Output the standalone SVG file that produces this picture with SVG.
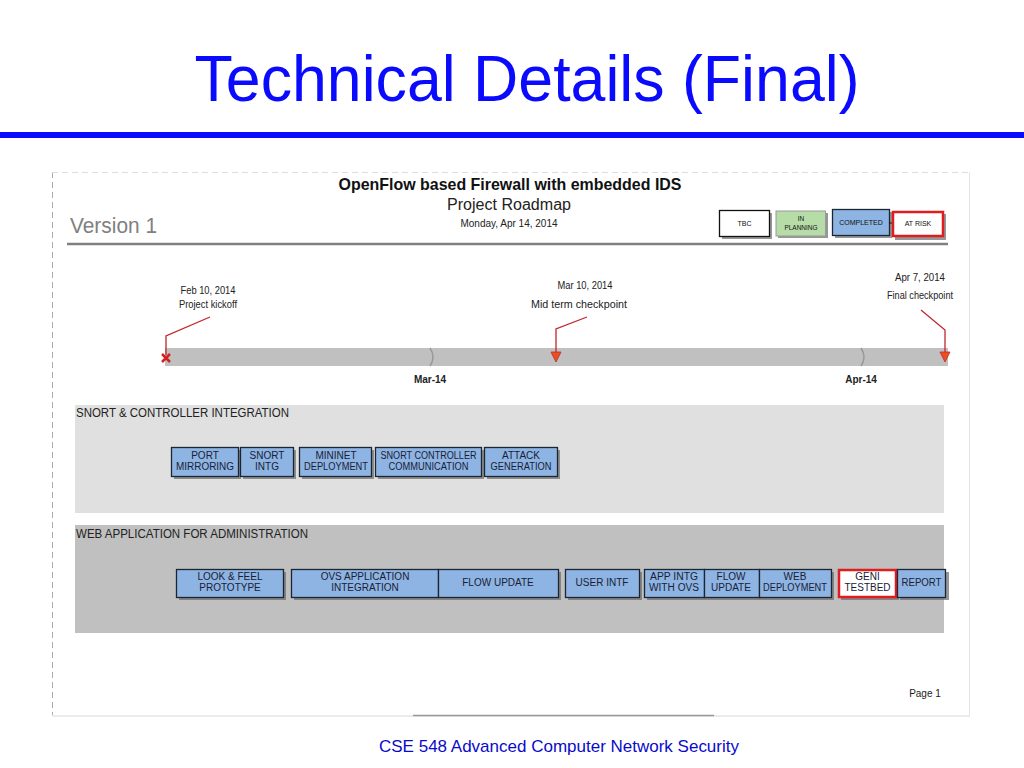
<svg xmlns="http://www.w3.org/2000/svg" width="1024" height="768" viewBox="0 0 1024 768">
<defs>
<style>
text{font-family:"Liberation Sans",Arial,sans-serif;}
.task{fill:#8db4e2;stroke:#1c2533;stroke-width:1.3;}
.shadow{fill:#6b6b6b;opacity:0.7;}
.tt{font-size:10px;fill:#1a2036;text-anchor:middle;}
.ms{font-size:10px;fill:#222;text-anchor:middle;}
.lead{fill:none;stroke:#c0272d;stroke-width:1.3;}
.tick{fill:none;stroke:#999;stroke-width:1.5;}
.sec{font-size:12px;fill:#222;}
</style>
</defs>
<rect width="1024" height="768" fill="#ffffff"/>

<g id="header">
<text x="527" y="101" font-size="64" fill="#0a0aff" text-anchor="middle" textLength="665" lengthAdjust="spacingAndGlyphs">Technical Details (Final)</text>
<rect x="0" y="132" width="1024" height="6" fill="#0a0aff"/>
</g>

<g id="page">
<line x1="52.5" y1="172" x2="52.5" y2="715" stroke="#aaa" stroke-width="1" stroke-dasharray="6,4"/>
<line x1="52" y1="172.5" x2="970" y2="172.5" stroke="#ddd" stroke-width="1" stroke-dasharray="6,4"/>
<line x1="969.5" y1="172" x2="969.5" y2="716" stroke="#e4e4e4" stroke-width="1"/>
<line x1="52" y1="716" x2="970" y2="716" stroke="#e4e4e4" stroke-width="1.5"/>
<line x1="413" y1="715.5" x2="714" y2="715.5" stroke="#999" stroke-width="1.5"/>
<text x="510" y="190" font-size="16.5" font-weight="bold" fill="#111" text-anchor="middle" textLength="343" lengthAdjust="spacingAndGlyphs">OpenFlow based Firewall with embedded IDS</text>
<text x="509" y="210" font-size="16" fill="#222" text-anchor="middle" textLength="124" lengthAdjust="spacingAndGlyphs">Project Roadmap</text>
<text x="509" y="227" font-size="10" fill="#222" text-anchor="middle">Monday, Apr 14, 2014</text>
<text x="70" y="233" font-size="22" fill="#808080" textLength="87" lengthAdjust="spacingAndGlyphs">Version 1</text>
<line x1="67" y1="244" x2="948" y2="244" stroke="#808080" stroke-width="2.5"/>
<text x="925" y="697" font-size="10" fill="#222" text-anchor="middle">Page 1</text>
</g>

<g id="legend">
<rect x="722" y="213" width="50" height="26" class="shadow"/>
<rect x="719.5" y="210.5" width="50" height="26" fill="#fff" stroke="#111" stroke-width="1.3"/>
<text x="744.5" y="226" font-size="7" fill="#111" text-anchor="middle">TBC</text>
<rect x="778" y="213" width="50" height="25" class="shadow"/>
<rect x="776" y="211" width="49.5" height="25" fill="#b6dda8" stroke="#999" stroke-width="1"/>
<text x="801" y="221" font-size="6.5" fill="#111" text-anchor="middle">IN</text>
<text x="801" y="230" font-size="6.5" fill="#111" text-anchor="middle">PLANNING</text>
<rect x="835" y="212" width="57" height="26" class="shadow"/>
<rect x="832.5" y="209.5" width="57" height="26" class="task"/>
<text x="861" y="225" font-size="7" fill="#111" text-anchor="middle">COMPLETED</text>
<line x1="889" y1="223" x2="893" y2="223" stroke="#111" stroke-width="1"/>
<rect x="895" y="214" width="51" height="26" class="shadow"/>
<rect x="893" y="212" width="50" height="24" fill="#fff" stroke="#e21c1c" stroke-width="2.5"/>
<text x="918" y="226" font-size="7" fill="#111" text-anchor="middle">AT RISK</text>
</g>

<g id="timeline">
<rect x="165" y="348" width="783" height="18" fill="#c0c0c0"/>
<path class="tick" d="M430,348 Q436,357 430,366"/>
<path class="tick" d="M861,348 Q867,357 861,366"/>
<text x="430" y="383" font-size="10" font-weight="bold" fill="#222" text-anchor="middle">Mar-14</text>
<text x="861" y="383" font-size="10" font-weight="bold" fill="#222" text-anchor="middle">Apr-14</text>
</g>

<g id="milestone-kickoff">
<text x="208" y="294" class="ms" textLength="55" lengthAdjust="spacingAndGlyphs">Feb 10, 2014</text>
<text x="208" y="308" class="ms" textLength="58" lengthAdjust="spacingAndGlyphs">Project kickoff</text>
<path class="lead" d="M210,317 L166,336 L166,355"/>
<path d="M162,354 L170,362 M170,354 L162,362" stroke="#d42020" stroke-width="2.5"/>
</g>

<g id="milestone-midterm">
<text x="585" y="289" class="ms" textLength="55" lengthAdjust="spacingAndGlyphs">Mar 10, 2014</text>
<text x="579" y="308" class="ms" textLength="96" lengthAdjust="spacingAndGlyphs">Mid term checkpoint</text>
<path class="lead" d="M587,317 L556,329 L556,352"/>
<path d="M551,352 L561,352 L556,362 Z" fill="#e8501e" stroke="#c0272d" stroke-width="0.8"/>
</g>

<g id="milestone-final">
<text x="920" y="281" class="ms" textLength="50" lengthAdjust="spacingAndGlyphs">Apr 7, 2014</text>
<text x="920" y="299" class="ms" textLength="66" lengthAdjust="spacingAndGlyphs">Final checkpoint</text>
<path class="lead" d="M921,310 L945,330 L945,352"/>
<path d="M940,352 L950,352 L945,362 Z" fill="#e8501e" stroke="#c0272d" stroke-width="0.8"/>
</g>

<g id="section-snort">
<rect x="75" y="405" width="869" height="108" fill="#e0e0e0"/>
<text x="76" y="417" class="sec" textLength="213" lengthAdjust="spacingAndGlyphs">SNORT &amp; CONTROLLER INTEGRATION</text>
</g>
<g id="task-port-mirroring">
<rect x="174" y="450" width="67" height="29" class="shadow"/>
<rect x="171.5" y="447.5" width="67" height="29" class="task"/>
<text x="205" y="459" class="tt">PORT</text><text x="205" y="470" class="tt" textLength="58" lengthAdjust="spacingAndGlyphs">MIRRORING</text>
</g>
<g id="task-snort-intg">
<rect x="243" y="450" width="53" height="29" class="shadow"/>
<rect x="240.5" y="447.5" width="53" height="29" class="task"/>
<text x="267" y="459" class="tt">SNORT</text><text x="267" y="470" class="tt">INTG</text>
</g>
<g id="task-mininet">
<rect x="302" y="450" width="72" height="29" class="shadow"/>
<rect x="299.5" y="447.5" width="72" height="29" class="task"/>
<text x="336" y="459" class="tt">MININET</text><text x="336" y="470" class="tt" textLength="64" lengthAdjust="spacingAndGlyphs">DEPLOYMENT</text>
</g>
<g id="task-snort-controller">
<rect x="378" y="450" width="106" height="29" class="shadow"/>
<rect x="375.5" y="447.5" width="106" height="29" class="task"/>
<text x="428.5" y="459" class="tt" textLength="96" lengthAdjust="spacingAndGlyphs">SNORT CONTROLLER</text><text x="428.5" y="470" class="tt" textLength="80" lengthAdjust="spacingAndGlyphs">COMMUNICATION</text>
</g>
<g id="task-attack">
<rect x="487" y="450" width="73" height="29" class="shadow"/>
<rect x="484.5" y="447.5" width="73" height="29" class="task"/>
<text x="521" y="459" class="tt">ATTACK</text><text x="521" y="470" class="tt" textLength="61" lengthAdjust="spacingAndGlyphs">GENERATION</text>
</g>

<g id="section-web">
<rect x="75" y="525" width="869" height="108" fill="#c0c0c0"/>
<text x="76" y="538" class="sec" textLength="232" lengthAdjust="spacingAndGlyphs">WEB APPLICATION FOR ADMINISTRATION</text>
</g>
<g id="task-look-feel">
<rect x="179" y="572" width="107" height="28" class="shadow"/>
<rect x="176.5" y="569.5" width="107" height="28" class="task"/>
<text x="230" y="580" class="tt">LOOK &amp; FEEL</text><text x="230" y="591" class="tt">PROTOTYPE</text>
</g>
<g id="task-ovs-app">
<rect x="294" y="572" width="147" height="28" class="shadow"/>
<rect x="291.5" y="569.5" width="147" height="28" class="task"/>
<text x="365" y="580" class="tt">OVS APPLICATION</text><text x="365" y="591" class="tt">INTEGRATION</text>
</g>
<g id="task-flow-update-1">
<rect x="441" y="572" width="120" height="28" class="shadow"/>
<rect x="438.5" y="569.5" width="120" height="28" class="task"/>
<text x="498" y="586" class="tt">FLOW UPDATE</text>
</g>
<g id="task-user-intf">
<rect x="568" y="572" width="74" height="28" class="shadow"/>
<rect x="565.5" y="569.5" width="74" height="28" class="task"/>
<text x="602" y="586" class="tt">USER INTF</text>
</g>
<g id="task-app-intg">
<rect x="647" y="572" width="60" height="28" class="shadow"/>
<rect x="644.5" y="569.5" width="60" height="28" class="task"/>
<text x="674" y="580" class="tt" textLength="48" lengthAdjust="spacingAndGlyphs">APP INTG</text><text x="674" y="591" class="tt" textLength="50" lengthAdjust="spacingAndGlyphs">WITH OVS</text>
</g>
<g id="task-flow-update-2">
<rect x="707" y="572" width="55" height="28" class="shadow"/>
<rect x="704.5" y="569.5" width="55" height="28" class="task"/>
<text x="731" y="580" class="tt">FLOW</text><text x="731" y="591" class="tt">UPDATE</text>
</g>
<g id="task-web-deploy">
<rect x="762" y="572" width="72" height="28" class="shadow"/>
<rect x="759.5" y="569.5" width="72" height="28" class="task"/>
<text x="795" y="580" class="tt">WEB</text><text x="795" y="591" class="tt" textLength="64" lengthAdjust="spacingAndGlyphs">DEPLOYMENT</text>
</g>
<g id="task-geni">
<rect x="841" y="572" width="58" height="28" class="shadow"/>
<rect x="839" y="570" width="57" height="27" fill="#fff" stroke="#e21c1c" stroke-width="2.5"/>
<text x="867.5" y="580" class="tt">GENI</text><text x="867.5" y="591" class="tt" textLength="46" lengthAdjust="spacingAndGlyphs">TESTBED</text>
</g>
<g id="task-report">
<rect x="900" y="572" width="49" height="28" class="shadow"/>
<rect x="897.5" y="569.5" width="48" height="28" class="task"/>
<text x="921.5" y="586" class="tt" textLength="40" lengthAdjust="spacingAndGlyphs">REPORT</text>
</g>

<g id="connectors"></g>

<g id="footer">
<text x="559" y="752" font-size="17" fill="#0a0acc" text-anchor="middle" textLength="360" lengthAdjust="spacingAndGlyphs">CSE 548 Advanced Computer Network Security</text>
</g>
</svg>
